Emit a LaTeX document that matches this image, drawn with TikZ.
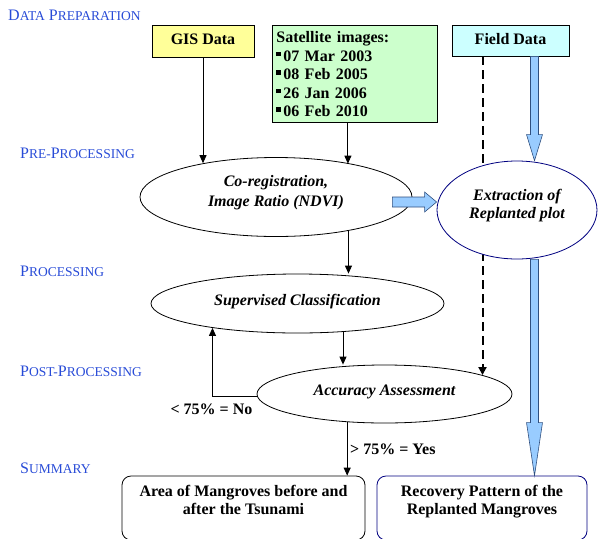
\documentclass[tikz,border=0pt]{standalone}
\usepackage{fontspec}
\setmainfont{Liberation Serif}
\usetikzlibrary{arrows.meta,calc,shapes.geometric}
\definecolor{gisyellow}{HTML}{FFFF99}
\definecolor{satgreen}{HTML}{CCFFCC}
\definecolor{fieldcyan}{HTML}{CCFFFF}
\definecolor{stageblue}{RGB}{40,75,215}
\definecolor{darknavy}{HTML}{000080}
\definecolor{blkfill}{HTML}{99CCFF}
\definecolor{blkline}{HTML}{2F4F7F}
\newcommand\mysc[1]{{\fontsize{13.5}{14}\selectfont #1}}
\newcommand\bul{\raisebox{5pt}{\rule{4.5pt}{4.5pt}}\hspace{2.5pt}}
\newcommand\vblk[5]{\draw[blockarrow] let \p1=(#1), \p2=(#2) in
  (\x1-#3pt,\y1) -- (\x1-#3pt,\y2+#5pt) -- (\x1-#4pt,\y2+#5pt) -- (\x1,\y2) --
  (\x1+#4pt,\y2+#5pt) -- (\x1+#3pt,\y2+#5pt) -- (\x1+#3pt,\y1) -- cycle;}
\newcommand\hblk[5]{\draw[blockarrow] let \p1=(#1), \p2=(#2) in
  (\x1,\y1+#3pt) -- (\x2-#5pt,\y1+#3pt) -- (\x2-#5pt,\y1+#4pt) -- (\x2,\y1) --
  (\x2-#5pt,\y1-#4pt) -- (\x2-#5pt,\y1-#3pt) -- (\x1,\y1-#3pt) -- cycle;}
\begin{document}
\begin{tikzpicture}[x=1pt,y=-1pt,
  stage/.style={text=stageblue, inner sep=0pt, font=\fontsize{16}{18}\selectfont},
  box/.style={draw=black, line width=0.8pt, inner sep=0pt, font=\fontsize{16}{18.5}\selectfont\bfseries},
  ell/.style={ellipse, draw=black, line width=0.8pt, fill=white, inner sep=0pt, align=center,
    font=\fontsize{16}{19}\selectfont\bfseries\itshape},
  rbox/.style={draw=black, line width=0.8pt, rounded corners=9pt, inner sep=0pt, align=center,
    minimum height=64pt, font=\fontsize{16}{18}\selectfont\bfseries},
  lbl/.style={inner sep=0pt, font=\fontsize{16}{18}\selectfont\bfseries},
  arr/.style={-{Triangle[length=8pt,width=7pt]}, line width=0.9pt},
  dasharr/.style={-{Triangle[length=8pt,width=8pt]}, line width=2pt, dash pattern=on 9pt off 5pt},
  blockarrow/.style={fill=blkfill, draw=blkline, line width=0.6pt}]
\useasboundingbox (0,0) rectangle (598,539);
\clip (0,0) rectangle (598,539);

% stage labels
\node[stage, anchor=base west] (sdp) at (8,20) {D\mysc{ATA} P\mysc{REPARATION}};
\node[stage, anchor=base west] (spre) at (20,158) {P\mysc{RE-}P\mysc{ROCESSING}};
\node[stage, anchor=base west] (sproc) at (20,276) {P\mysc{ROCESSING}};
\node[stage, anchor=base west] (spost) at (20,376) {P\mysc{OST-}P\mysc{ROCESSING}};
\node[stage, anchor=base west] (ssum) at (20,473) {S\mysc{UMMARY}};

% data boxes
\node[box, fill=gisyellow, minimum width=102pt, minimum height=32pt, text height=11.5pt, text depth=4.5pt] (gis) at (203,41) {GIS Data};
\node[box, fill=satgreen, anchor=north west, text width=157pt, align=left, inner xsep=4pt, inner ysep=6pt] (sat) at (272,25)
  {Satellite images:\\ \bul 07 Mar 2003\\ \bul 08 Feb 2005\\ \bul 26 Jan 2006\\ \bul 06 Feb 2010};
\node[box, fill=fieldcyan, minimum width=117pt, minimum height=31pt, text height=11.5pt, text depth=4.5pt] (field) at (510.5,40.5) {Field Data};

% helper coordinates
\coordinate (fA) at ($(field.south)+(24,0)$);
\coordinate (dA) at ($(field.south)+(-28,0)$);
\coordinate (sA) at ($(sat.south)+(-7,0)$);

% accuracy ellipse and dashed line (behind extraction ellipse)
\node[ell, minimum width=255pt, minimum height=58pt] (acc) at (384.5,394) {Accuracy Assessment\rule[-7pt]{0pt}{1pt}};
\draw[dasharr] (dA) -- (dA |- acc.11);

% ellipses
\node[ell, minimum width=272pt, minimum height=79pt] (coreg) at (276,197) {Co-registration,\\[1pt] Image Ratio (NDVI)\rule[-11.5pt]{0pt}{1pt}};
\node[ell, draw=darknavy, minimum width=160pt, minimum height=98pt, font=\fontsize{16}{18}\selectfont\bfseries\itshape] (extr) at (517,210) {Extraction of\\ Replanted plot\rule[-12pt]{0pt}{1pt}};
\node[ell, minimum width=293pt, minimum height=59pt] (sup) at (297.5,303.5) {Supervised Classification\rule[-8pt]{0pt}{1pt}};

% summary boxes
\node[rbox, minimum width=243pt] (area) at (243.5,508) {Area of Mangroves before and\\ after the Tsunami\rule[-15.5pt]{0pt}{1pt}};
\node[rbox, draw=darknavy, minimum width=210pt] (rec) at (482,508) {Recovery Pattern of the\\ Replanted Mangroves\rule[-15.5pt]{0pt}{1pt}};

% black connectors
\draw[arr] (gis.south) -- (gis.south |- coreg.155.7);
\draw[arr] (sA) -- (sA |- coreg.24.9);
\coordinate (c1) at (coreg.-25.5);
\draw[arr] (c1) -- (c1 |- sup.north);
\coordinate (c2) at (sup.-32.3);
\draw[arr] (c2) -- (c2 |- acc.north);
\coordinate (c3) at (acc.-143.6);
\draw[arr] (c3) -- (c3 |- area.north);
\draw[arr] (acc.181.4) -| (sup.-164.3);

% labels on connectors
\node[lbl, anchor=base] (nolbl) at (211.5,414) {< 75\% = No};
\node[lbl, anchor=base west] (yeslbl) at (350,454) {> 75\% = Yes};

% block arrows
\coordinate (fB) at (fA |- extr.north);
\coordinate (lA) at (fA |- extr.south);
\coordinate (lB) at (fA |- rec.north);
\coordinate (hA) at ($(coreg.east)+(-20,5)$);
\coordinate (hB) at (hA -| extr.west);
\vblk{fA}{fB}{4}{8}{26}
\vblk{lA}{lB}{4}{8}{53}
\hblk{hA}{hB}{5}{10}{12}
\end{tikzpicture}
\end{document}
